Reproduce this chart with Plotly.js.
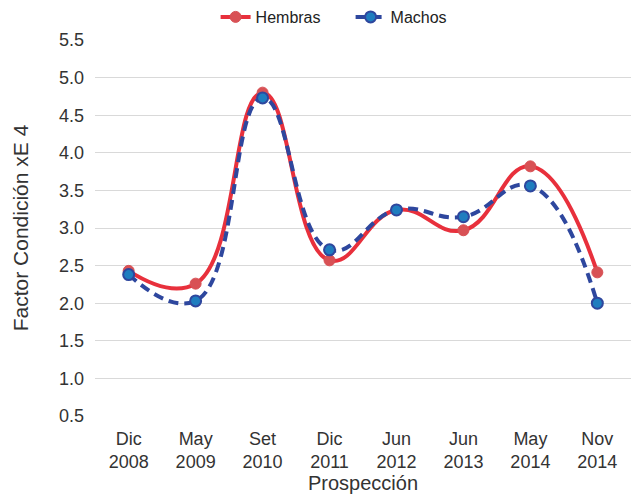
<!DOCTYPE html>
<html><head><meta charset="utf-8">
<script src="https://cdn.plot.ly/plotly-3.0.1.min.js"></script>
<style>html,body{margin:0;padding:0;background:#fff}</style>
</head><body>
<div id="chart" style="width:633px;height:497px"></div>
<script>
const categories = ["Dic<br>2008","May<br>2009","Set<br>2010","Dic<br>2011","Jun<br>2012","Jun<br>2013","May<br>2014","Nov<br>2014"];
const hembras = [2.43, 2.26, 4.80, 2.57, 3.24, 2.97, 3.82, 2.41];
const machos  = [2.38, 2.03, 4.73, 2.71, 3.24, 3.15, 3.56, 2.00];
const yTicks = [0.5,1.0,1.5,2.0,2.5,3.0,3.5,4.0,4.5,5.0,5.5];

const traces = [
  {x: categories, y: hembras, name: "Hembras", mode: "lines+markers", type: "scatter",
   line: {color: "#E8303C", width: 4, shape: "spline", smoothing: 1.3},
   marker: {color: "#D85155", size: 11, line: {color: "#D85155", width: 1}}},
  {x: categories, y: machos, name: "Machos", mode: "lines+markers", type: "scatter",
   line: {color: "#2E479E", width: 4, dash: "10px,6px", shape: "spline", smoothing: 1.3},
   marker: {color: "#1F7DBF", size: 11, line: {color: "#2E479E", width: 2}}}
];

const layout = {
  width: 633, height: 497,
  margin: {l: 95, r: 2, t: 40, b: 81, autoexpand: false},
  paper_bgcolor: "#fff", plot_bgcolor: "#fff",
  font: {family: "Liberation Sans, Arial, sans-serif", color: "#333"},
  showlegend: true,
  legend: {orientation: "h", x: 0.225, xanchor: "left", y: 1.016, yanchor: "bottom",
           font: {size: 16, color: "#222"}, entrywidth: 90, traceorder: "normal"},
  xaxis: {type: "category", tickfont: {size: 18, color: "#333"}, showgrid: false,
          showline: false, ticks: "", ticklabelstandoff: 10,
          title: {text: "Prospección", font: {size: 20, color: "#333"}, standoff: 4}},
  yaxis: {range: [0.5, 5.5], tickvals: yTicks, ticktext: yTicks.map(v => v.toFixed(1)),
          tickfont: {size: 18, color: "#333"}, gridcolor: "#D9D9D9", gridwidth: 1.3,
          zeroline: false, showline: false, ticks: "", ticklabelstandoff: 10,
          title: {text: "Factor Condición xE 4", font: {size: 21, color: "#333"}, standoff: 24}}
};
Plotly.newPlot("chart", traces, layout, {displayModeBar: false});
</script>
</body></html>
